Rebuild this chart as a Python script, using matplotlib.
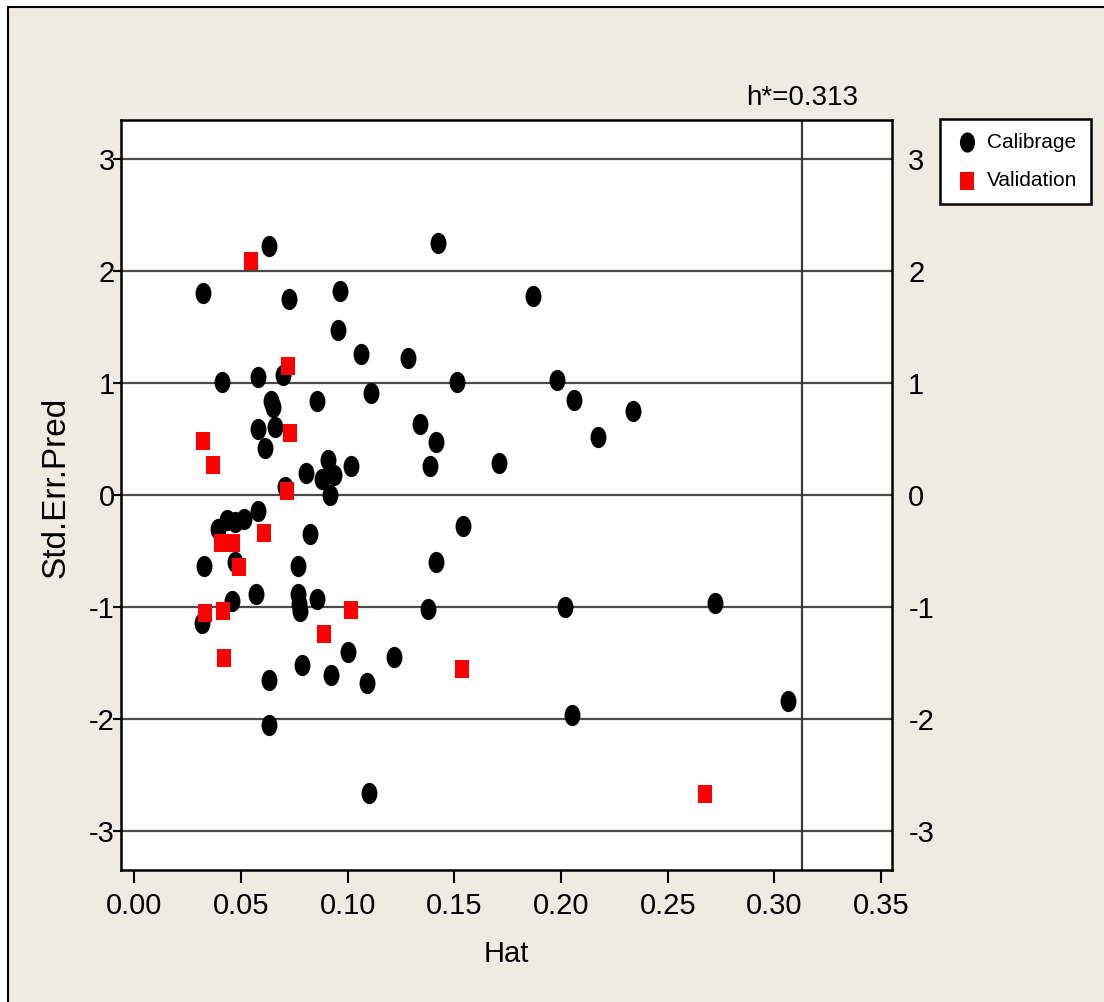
import matplotlib
matplotlib.use("Agg")
import matplotlib.pyplot as plt
import matplotlib.transforms as mtrans
from matplotlib.path import Path
from matplotlib.transforms import Affine2D
from matplotlib.patches import Rectangle

# data
calib_hat = [0.0631, 0.1423, 0.0321, 0.0724, 0.0965, 0.1868, 0.0954, 0.1062, 0.1283,
             0.1109, 0.0410, 0.0579, 0.0696, 0.1512, 0.1981, 0.2060, 0.2337, 0.0640,
             0.0649, 0.0856, 0.0659, 0.0579, 0.0612, 0.1339, 0.1414, 0.2173, 0.1385,
             0.1015, 0.0907, 0.0935, 0.0879, 0.0804, 0.1709, 0.0917, 0.0706, 0.0579,
             0.0513, 0.0471, 0.0432, 0.0391, 0.0823, 0.1540, 0.0326, 0.0471, 0.0767,
             0.1414, 0.0457, 0.0570, 0.0769, 0.0771, 0.0775, 0.0856, 0.1378, 0.2016,
             0.2722, 0.0317, 0.1000, 0.1217, 0.0785, 0.0921, 0.1090, 0.0631, 0.2051,
             0.3064, 0.0631, 0.1100]
calib_res = [2.22, 2.25, 1.80, 1.75, 1.82, 1.78, 1.47, 1.26, 1.22,
             0.91, 1.01, 1.05, 1.07, 1.01, 1.03, 0.85, 0.75, 0.84,
             0.79, 0.84, 0.61, 0.59, 0.42, 0.63, 0.47, 0.52, 0.26,
             0.26, 0.31, 0.18, 0.14, 0.20, 0.29, 0.00, 0.07, -0.14,
             -0.21, -0.24, -0.22, -0.30, -0.35, -0.28, -0.63, -0.60, -0.63,
             -0.60, -0.95, -0.88, -0.88, -0.97, -1.04, -0.93, -1.02, -1.00,
             -0.96, -1.14, -1.40, -1.45, -1.52, -1.61, -1.68, -1.65, -1.96,
             -1.84, -2.05, -2.66]

valid_hat = [0.0546, 0.0718, 0.0728, 0.0322, 0.0366, 0.0717, 0.0609, 0.0406, 0.0463,
             0.0491, 0.0331, 0.0413, 0.1014, 0.0888, 0.0421, 0.1535, 0.2675]
valid_res = [2.09, 1.155, 0.55, 0.48, 0.27, 0.036, -0.34, -0.43, -0.43,
             -0.64, -1.056, -1.04, -1.03, -1.244, -1.458, -1.554, -2.67]

h_star = 0.313
xticks = [0.00, 0.05, 0.10, 0.15, 0.20, 0.25, 0.30, 0.35]
yticks = [-3, -2, -1, 0, 1, 2, 3]

font = ["Liberation Sans Narrow", "Liberation Sans", "DejaVu Sans"]
W, H = 1104, 1002
fig = plt.figure(figsize=(W / 100, H / 100), dpi=100, facecolor="white")

# beige panel, frame only visible top and left
fig.add_artist(Rectangle((8 / W, -0.05), 1.2, 1 - 7 / H + 0.05, transform=fig.transFigure,
                         facecolor="#EFEBE1", edgecolor="black", linewidth=1.5, zorder=-5))

ax = fig.add_axes([121 / W, 132 / H, 771 / W, 750 / H])
ax.set_facecolor("white")

oval = Path.unit_circle().transformed(Affine2D().scale(0.75, 1.0))
square = Path([(-0.39, -0.5), (0.39, -0.5), (0.39, 0.5), (-0.39, 0.5), (-0.39, -0.5)],
              [Path.MOVETO, Path.LINETO, Path.LINETO, Path.LINETO, Path.CLOSEPOLY])

for y in yticks:
    ax.axhline(y, color="#4a4a4a", linewidth=1.6, zorder=1)
ax.axvline(h_star, color="#3a3a3a", linewidth=1.6, zorder=1)

ax.scatter(calib_hat, calib_res, marker=oval, s=15.3 ** 2, color="black",
           linewidths=0, zorder=3, label="Calibrage")
ax.scatter(valid_hat, valid_res, marker=square, s=13.5 ** 2, color="#ff0000",
           linewidths=0, zorder=4, label="Validation")

ax.set_xlim(-0.0063, 0.3551)
ax.set_ylim(-3.348, 3.348)
ax.set_xticks(xticks)
ax.set_xticklabels([f"{v:.2f}" for v in xticks])
ax.set_yticks(yticks)
ax.set_yticklabels([str(v) for v in yticks])

for s in ax.spines.values():
    s.set_linewidth(1.8)
    s.set_color("black")

ax.tick_params(axis="x", direction="out", length=9, width=1.5, pad=7, labelsize=21)
ax.tick_params(axis="y", left=True, right=True, labelleft=True, labelright=True,
               labelsize=21, pad=1)
for t in ax.yaxis.get_major_ticks():
    t.tick1line.set_markersize(5.5)
    t.tick1line.set_markeredgewidth(1.5)
    t.tick2line.set_markersize(0)
for lab in ax.get_xticklabels() + ax.get_yticklabels():
    lab.set_family(font)
offset = mtrans.ScaledTranslation(10 / 100, 0, fig.dpi_scale_trans)
for t in ax.yaxis.get_major_ticks():
    t.label2.set_family(font)
    t.label2.set_transform(t.label2.get_transform() + offset)

ax.set_xlabel("Hat", family=font, fontsize=21, labelpad=14)
ax.set_ylabel("Std.Err.Pred", family=font, fontsize=24)
ax.yaxis.set_label_coords(-0.064, 0.51)

ax.text(h_star, 1.012, "h*=0.313", transform=ax.get_xaxis_transform(), ha="center",
        va="bottom", family=font, fontsize=20)

leg = ax.legend(loc="upper left", bbox_to_anchor=(940 / W, 1 - 119 / H),
                bbox_transform=fig.transFigure, borderaxespad=0, frameon=True,
                fancybox=False, edgecolor="black", framealpha=1,
                prop={"family": font, "size": 15}, handletextpad=0.3,
                labelspacing=0.95, borderpad=0.65, handlelength=1.3, markerscale=0.95)
leg.get_frame().set_linewidth(1.8)

fig.savefig("out.png", dpi=100, facecolor="white")
